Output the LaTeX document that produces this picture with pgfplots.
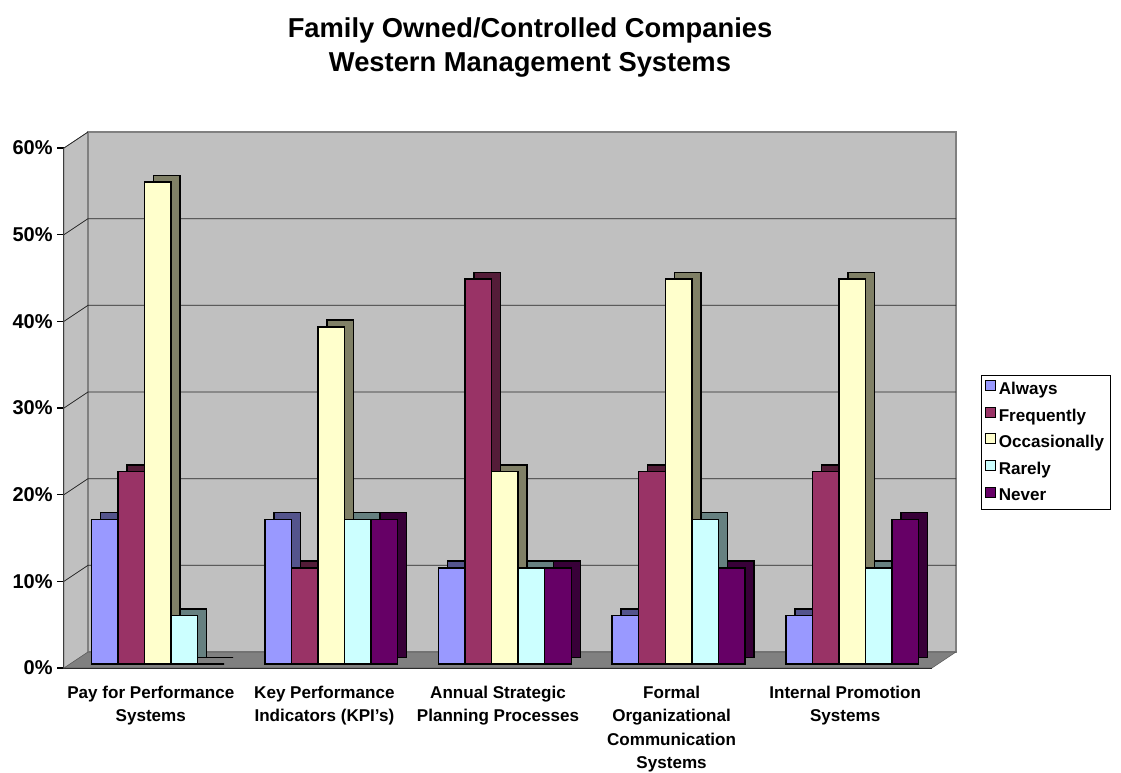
\documentclass[border=0pt]{standalone}
\usepackage{pgfplots}
\pgfplotsset{compat=1.18}
\usepackage{fontspec}
\setmainfont{Liberation Sans}
\definecolor{cAlw}{RGB}{153,153,255}
\definecolor{cFre}{RGB}{153,51,102}
\definecolor{cOcc}{RGB}{255,255,204}
\definecolor{cRar}{RGB}{204,255,255}
\definecolor{cNev}{RGB}{102,0,102}
\definecolor{wall}{RGB}{192,192,192}
\definecolor{floorc}{RGB}{128,128,128}
\pgfplotstableread{
x    alw   fre   occ   rar   nev
0.04 16.7  22.2  55.6  5.6   0
1.04 16.7  11.1  38.9  16.7  16.7
2.04 11.1  44.4  22.2  11.1  11.1
3.04 5.6   22.2  44.4  16.7  11.1
4.04 5.6   22.2  44.4  11.1  16.7
}\datatable
\begin{document}
\begin{tikzpicture}
\useasboundingbox (-48pt,-78pt) rectangle (792.75pt,501pt);
\node[font=\bfseries\fontsize{20.5}{25.5}\selectfont, align=center] at (349.5pt,465.5pt) {Family Owned/Controlled Companies\\Western Management Systems};
\begin{axis}[
  at={(0pt,0pt)}, anchor=south west,
  scale only axis, width=651pt, height=390pt,
  xmin=-0.5, xmax=4.5, ymin=0, ymax=60,
  clip=false,
  axis x line*=bottom, axis y line*=left,
  axis line style={black, line width=0.9pt, -},
  xtick={0,1,2,3,4},
  xticklabels={{Pay for Performance\\Systems},{Key Performance\\Indicators (KPI's)},{Annual Strategic\\Planning Processes},{Formal\\Organizational\\Communication\\Systems},{Internal Promotion\\Systems}},
  xticklabel style={font=\bfseries\fontsize{12.8}{17.6}\selectfont, align=center, yshift=-5pt},
  x tick style={draw=none},
  extra x ticks={0.5,1.5,2.5,3.5,4.5},
  extra x tick labels={},
  extra x tick style={tickpos=left, tick align=outside, major tick length=9pt, tick style={black, line width=0.8pt, draw=black}, grid=none},
  ytick={0,10,...,60},
  yticklabel={\pgfmathprintnumber{\tick}\%},
  /pgf/number format/assume math mode=true,
  yticklabel style={font=\bfseries\fontsize{15}{17}\selectfont},
  y tick style={black, line width=0.8pt},
  tick align=outside, major tick length=5pt,
  legend style={at={(axis description cs:1.0565,0.5635)}, anchor=north west,
    draw=black, line width=0.6pt, font=\bfseries\fontsize{12.8}{15}\selectfont,
    row sep=5.3pt, inner sep=3pt},
  legend cell align=left,
  legend image code/.code={\draw[#1, draw=black, line width=0.5pt] (0pt,-3.8pt) rectangle (7.5pt,3.8pt);},
  every axis plot/.append style={draw=black, line width=1.1pt, ybar, bar width=19.9pt},
  back/.style={xshift=6.75pt, yshift=8pt, forget plot},
  front/.style={yshift=3pt},
]
% walls and floor
\fill[wall, draw=floorc] (axis cs:-0.5,0) -- (axis cs:-0.5,60) -- ++(18pt,12pt) -- ([shift={(18pt,12pt)}]axis cs:-0.5,0) -- cycle;
\fill[wall, draw=floorc, line width=0.8pt] ([shift={(18pt,12pt)}]axis cs:-0.5,0) rectangle ([shift={(18pt,12pt)}]axis cs:4.5,60);
\pgfplotsinvokeforeach{10,20,30,40,50}{
  \draw[black!85, line width=0.6pt] (axis cs:-0.5,#1) -- ([shift={(18pt,12pt)}]axis cs:-0.5,#1) -- ([shift={(18pt,12pt)}]axis cs:4.5,#1);
}
\draw[black!85, line width=0.6pt] (axis cs:-0.5,60) -- ([shift={(18pt,12pt)}]axis cs:-0.5,60);
\fill[floorc, draw=floorc!70!black] (axis cs:-0.5,0) -- (axis cs:4.5,0) -- ([shift={(18pt,12pt)}]axis cs:4.5,0) -- ([shift={(18pt,12pt)}]axis cs:-0.5,0) -- cycle;
% bars
\addplot[back, fill=cAlw!55!black, bar shift=-39.8pt] table[x=x,y=alw] {\datatable};
\addplot[front, fill=cAlw, bar shift=-39.8pt] table[x=x,y=alw] {\datatable};
\addlegendentry{Always}
\addplot[back, fill=cFre!55!black, bar shift=-19.9pt] table[x=x,y=fre] {\datatable};
\addplot[front, fill=cFre, bar shift=-19.9pt] table[x=x,y=fre] {\datatable};
\addlegendentry{Frequently}
\addplot[back, fill=cOcc!50!black, bar shift=0pt] table[x=x,y=occ] {\datatable};
\addplot[front, fill=cOcc, bar shift=0pt] table[x=x,y=occ] {\datatable};
\addlegendentry{Occasionally}
\addplot[back, fill=cRar!50!black, bar shift=19.9pt] table[x=x,y=rar] {\datatable};
\addplot[front, fill=cRar, bar shift=19.9pt] table[x=x,y=rar] {\datatable};
\addlegendentry{Rarely}
\addplot[back, fill=cNev!55!black, bar shift=39.8pt] table[x=x,y=nev] {\datatable};
\addplot[front, fill=cNev, bar shift=39.8pt] table[x=x,y=nev] {\datatable};
\addlegendentry{Never}
\end{axis}
\end{tikzpicture}
\end{document}
